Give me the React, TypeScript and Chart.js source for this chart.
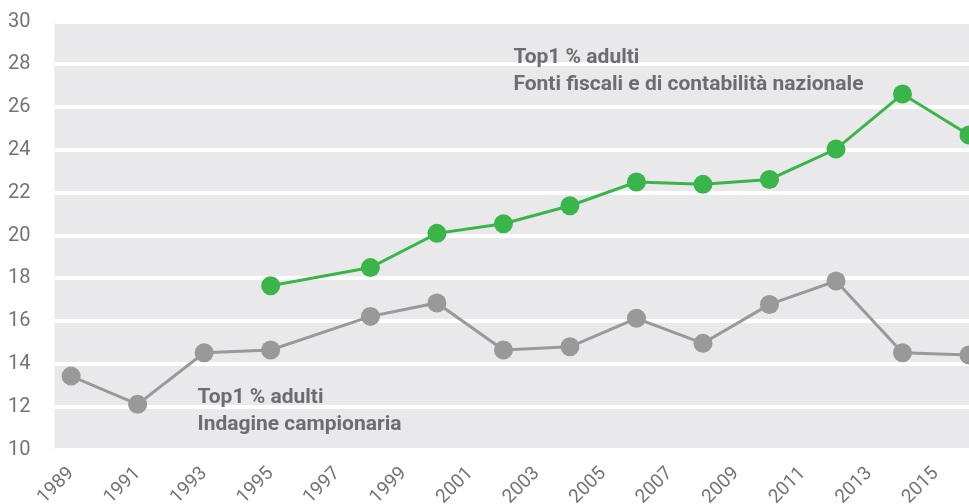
import React, { useEffect, useRef } from "react";
import { Chart, registerables } from "chart.js";

Chart.register(...registerables);

// Data
const surveyYears = [1989, 1991, 1993, 1995, 1998, 2000, 2002, 2004, 2006, 2008, 2010, 2012, 2014, 2016];
const surveyValues = [13.43, 12.11, 14.52, 14.65, 16.22, 16.85, 14.65, 14.8, 16.13, 14.96, 16.78, 17.87, 14.52, 14.42];
const fiscalYears = [1995, 1998, 2000, 2002, 2004, 2006, 2008, 2010, 2012, 2014, 2016];
const fiscalValues = [17.65, 18.5, 20.1, 20.55, 21.39, 22.5, 22.39, 22.62, 24.04, 26.61, 24.7];
const xTickYears = [1989, 1991, 1993, 1995, 1997, 1999, 2001, 2003, 2005, 2007, 2009, 2011, 2013, 2015];
const yTicks = [10, 12, 14, 16, 18, 20, 22, 24, 26, 28, 30];
const fiscalLabel = ["Top1 % adulti", "Fonti fiscali e di contabilità nazionale"];
const surveyLabel = ["Top1 % adulti", "Indagine campionaria"];
// annotation anchors in data units [year, value]
const fiscalLabelAnchor = [2002.3, 28.06];
const surveyLabelAnchor = [1992.8, 12.16];

const FONT = "Roboto, 'DejaVu Sans', sans-serif";
const TEXT_COLOR = "#727377";
const LABEL_COLOR = "#6c6d71";

const bgPlugin = {
  id: "bgPlugin",
  beforeDraw(chart: any) {
    const { ctx, chartArea } = chart;
    ctx.save();
    ctx.fillStyle = "#e9e9eb";
    ctx.fillRect(chartArea.left, chartArea.top, chartArea.right - chartArea.left, chartArea.bottom - chartArea.top);
    ctx.restore();
  },
};

const labelPlugin = {
  id: "labelPlugin",
  afterDatasetsDraw(chart: any) {
    const { ctx } = chart;
    const xs = chart.scales.x;
    const ys = chart.scales.y;
    const draw = (lines: string[], anchor: number[]) => {
      const x = xs.getPixelForValue(anchor[0]);
      const y = ys.getPixelForValue(anchor[1]);
      ctx.save();
      ctx.font = `bold 21px ${FONT}`;
      ctx.fillStyle = LABEL_COLOR;
      ctx.textAlign = "left";
      ctx.textBaseline = "alphabetic";
      lines.forEach((l, i) => ctx.fillText(l, x, y + i * 26.5));
      ctx.restore();
    };
    draw(fiscalLabel, fiscalLabelAnchor);
    draw(surveyLabel, surveyLabelAnchor);
  },
};

export default function App() {
  const ref = useRef<HTMLCanvasElement>(null);
  useEffect(() => {
    if (!ref.current) return;
    const chart = new Chart(ref.current, {
      type: "line",
      data: {
        datasets: [
          {
            label: "Fonti fiscali e di contabilità nazionale",
            data: fiscalYears.map((x, i) => ({ x, y: fiscalValues[i] })),
            borderColor: "#39b54a",
            backgroundColor: "#39b54a",
            borderWidth: 3,
            pointRadius: 9.5,
            pointBorderWidth: 0,
            pointBackgroundColor: "#39b54a",
            tension: 0,
            clip: false as any,
          },
          {
            label: "Indagine campionaria",
            data: surveyYears.map((x, i) => ({ x, y: surveyValues[i] })),
            borderColor: "#999999",
            backgroundColor: "#999999",
            borderWidth: 3,
            pointRadius: 9.5,
            pointBorderWidth: 0,
            pointBackgroundColor: "#999999",
            tension: 0,
            clip: false as any,
          },
        ],
      },
      options: {
        animation: false,
        responsive: true,
        maintainAspectRatio: false,
        layout: { autoPadding: false, padding: { top: 21.5, right: 0, left: 0, bottom: 0 } },
        plugins: { legend: { display: false }, tooltip: { enabled: false } },
        scales: {
          x: {
            type: "linear",
            min: 1988.5,
            max: 2016,
            afterBuildTicks: (scale: any) => {
              scale.ticks = xTickYears.map((v) => ({ value: v }));
            },
            afterFit: (scale: any) => {
              scale.height = 54.5;
              scale.paddingLeft = 0;
              scale.paddingRight = 0;
            },
            grid: { display: false, drawTicks: false },
            border: { display: false },
            ticks: {
              minRotation: 45,
              maxRotation: 45,
              padding: 13,
              autoSkip: false,
              color: TEXT_COLOR,
              font: { family: FONT, size: 19 },
              callback: (v: any) => String(v),
            },
          },
          y: {
            min: 10,
            max: 30,
            afterBuildTicks: (scale: any) => {
              scale.ticks = yTicks.map((v) => ({ value: v }));
            },
            afterFit: (scale: any) => {
              scale.width = 54.5;
              scale.paddingTop = 0;
              scale.paddingBottom = 0;
            },
            grid: { color: "#ffffff", lineWidth: 4, drawTicks: false },
            border: { display: false },
            ticks: {
              padding: 24,
              color: TEXT_COLOR,
              font: { family: FONT, size: 20 },
            },
          },
        },
      },
      plugins: [bgPlugin, labelPlugin],
    });
    return () => chart.destroy();
  }, []);
  return (
    <div style={{ position: "fixed", left: 0, top: 0, width: 969, height: 504, background: "#ffffff" }}>
      <canvas ref={ref} />
    </div>
  );
}
